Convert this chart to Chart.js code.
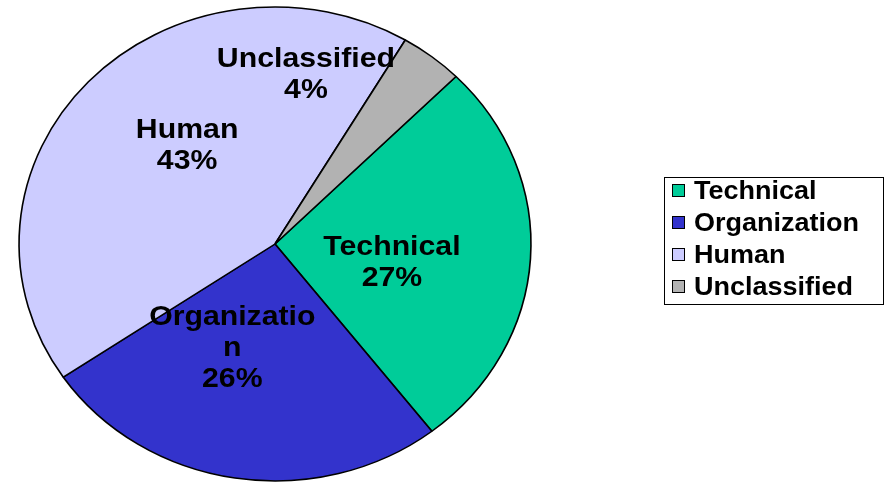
<!DOCTYPE html>
<html>
<head>
<meta charset="utf-8">
<script src="https://cdn.jsdelivr.net/npm/chart.js@4.4.1/dist/chart.umd.min.js"></script>
<style>
  html, body { margin: 0; padding: 0; background: #ffffff; }
  #wrap { width: 886px; height: 483px; }
</style>
</head>
<body>
<div id="wrap"><canvas id="graficoPizza" width="886" height="483"></canvas></div>
<script>
/* ============================================================
DADOS
============================================================ */

const categorias = ["Technical", "Organization", "Human", "Unclassified"];
const valores = [27, 26, 43, 4];
const cores = ["#00cc99", "#3333cc", "#ccccff", "#b2b2b2"];

// the original pie is a little wider than tall
const ESTICAR = 1.08;
const FONTE = '"Liberation Sans", Arial, sans-serif';

// small nudges for the data labels (Excel "best fit" style)
const ajusteRotulo = [
  [-10, 10],
  [-21, -14],
  [5, -18],
  [-44, -77],
];

/* ============================================================
PLUGIN ELIPSE
============================================================ */

const elipsePlugin = {
  id: "elipse",
  beforeDatasetsDraw(chart) {
    const { ctx } = chart;
    const arc = chart.getDatasetMeta(0).data[0];
    ctx.save();
    ctx.translate(arc.x, arc.y);
    ctx.scale(ESTICAR, 1);
    ctx.translate(-arc.x, -arc.y);
  },
  afterDatasetsDraw(chart) {
    chart.ctx.restore();
  },
};

/* ============================================================
PLUGIN ROTULOS
============================================================ */

function quebrarTexto(ctx, texto, maxLargura) {
  const linhas = [];
  let atual = "";
  for (const ch of texto) {
    if (atual && ctx.measureText(atual + ch).width > maxLargura) {
      linhas.push(atual);
      atual = ch;
    } else {
      atual += ch;
    }
  }
  if (atual) linhas.push(atual);
  return linhas;
}

const rotulosPlugin = {
  id: "rotulos",
  afterDatasetsDraw(chart) {
    const { ctx } = chart;
    const meta = chart.getDatasetMeta(0);
    const dados = chart.data.datasets[0].data;
    const total = dados.reduce((a, b) => a + b, 0);

    ctx.save();
    ctx.font = "bold 28px " + FONTE;
    ctx.fillStyle = "#000000";
    ctx.textAlign = "center";
    ctx.textBaseline = "middle";

    meta.data.forEach((arc, i) => {
      const meio = (arc.startAngle + arc.endAngle) / 2;
      const r = arc.outerRadius * 0.5;
      const dx = Math.cos(meio) * r + ajusteRotulo[i][0];
      const dy = Math.sin(meio) * r + ajusteRotulo[i][1];

      const pct = Math.round((dados[i] / total) * 100) + "%";
      const linhas = quebrarTexto(ctx, chart.data.labels[i], 168);
      linhas.push(pct);

      const alturaLinha = 31;
      const topo = dy - ((linhas.length - 1) * alturaLinha) / 2;

      ctx.save();
      ctx.translate(arc.x, arc.y);
      ctx.scale(ESTICAR, 1);
      linhas.forEach((linha, j) => {
        ctx.fillText(linha, dx, topo + j * alturaLinha + 1);
      });
      ctx.restore();
    });

    ctx.restore();
  },
};

/* ============================================================
PLUGIN LEGENDA (caixa com borda)
============================================================ */

const legendaPlugin = {
  id: "legendaCaixa",
  afterDraw(chart) {
    const { ctx } = chart;
    const cx = 664.5, cy = 177.5, cw = 219, ch = 127;

    ctx.save();
    ctx.fillStyle = "#ffffff";
    ctx.fillRect(cx, cy, cw, ch);
    ctx.strokeStyle = "#000000";
    ctx.lineWidth = 1;
    ctx.strokeRect(cx, cy, cw, ch);

    ctx.font = "bold 25px " + FONTE;
    ctx.textAlign = "left";
    ctx.textBaseline = "middle";

    chart.data.labels.forEach((nome, i) => {
      const y = 191 + i * 32;
      ctx.fillStyle = chart.data.datasets[0].backgroundColor[i];
      ctx.fillRect(672.5, y - 6.5, 12, 12);
      ctx.strokeStyle = "#000000";
      ctx.strokeRect(672.5, y - 6.5, 12, 12);

      ctx.save();
      ctx.translate(694, y + 1);
      ctx.scale(ESTICAR, 1);
      ctx.fillStyle = "#000000";
      ctx.fillText(nome, 0, 0);
      ctx.restore();
    });
    ctx.restore();
  },
};

/* ============================================================
GRÁFICO PIZZA
============================================================ */

new Chart(document.getElementById("graficoPizza"), {
  type: "pie",
  data: {
    labels: categorias,
    datasets: [
      {
        data: valores,
        backgroundColor: cores,
        borderColor: "#000000",
        borderWidth: 1.5,
      },
    ],
  },
  options: {
    responsive: false,
    devicePixelRatio: 1,
    animation: false,
    rotation: 45,
    radius: 237,
    layout: {
      padding: { left: 38, right: 374, top: 7, bottom: 2 },
    },
    plugins: {
      legend: { display: false },
      tooltip: { enabled: false },
    },
  },
  plugins: [elipsePlugin, rotulosPlugin, legendaPlugin],
});
</script>
</body>
</html>
